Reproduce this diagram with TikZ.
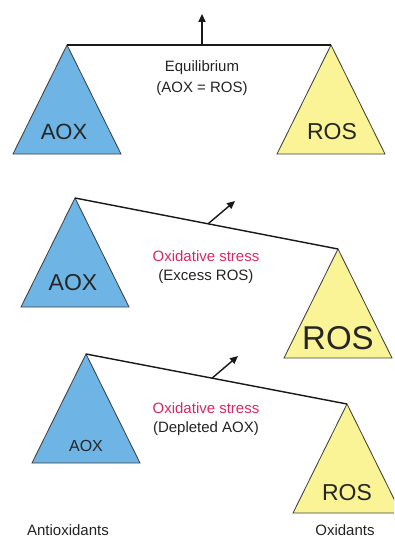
\documentclass[tikz,border=0pt]{standalone}
\usepackage{fontspec}
\setmainfont{Liberation Sans}
\usepackage{tikz}
\usetikzlibrary{arrows.meta,calc}
\definecolor{aoxblue}{RGB}{110,180,228}
\definecolor{rosyellow}{RGB}{250,244,150}
\definecolor{stressred}{RGB}{214,40,96}
\definecolor{labelgrey}{RGB}{35,35,35}
\tikzset{
	aoxpan/.style={fill=aoxblue, draw=black!75, line width=0.3mm},
	rospan/.style={fill=rosyellow, draw=black!75, line width=0.3mm},
	beam/.style={line width=0.5mm, color=black!90},
	tilt/.style={line width=0.5mm, color=black!90, -{Triangle[length=2.8mm,width=2.5mm]}},
	caption/.style={font=\fontsize{15}{18}\selectfont, text=labelgrey, inner sep=0pt},
	weight/.style={text=black!85, inner sep=0pt},
}
\def\pan[#1](#2){\draw[#1] (#2) -- ++(-54,109) -- ++(108,0) -- cycle;}

\begin{document}
\begin{tikzpicture}[x=1pt, y=-1pt]
			%%%%% START %%%%%
			
			\path[use as bounding box, clip] (0,0) rectangle (394,541);
			
			% equilibrium
			\coordinate (aoxTop1) at (67, 45);
			\coordinate (rosTop1) at (331, 45);
			\coordinate (pivot1) at (202, 45);
			\coordinate (tip1) at (202, 14);
			\pan[aoxpan](aoxTop1);
			\pan[rospan](rosTop1);
			\draw[beam] (aoxTop1) -- (rosTop1);
			\draw[tilt] (pivot1) -- (tip1);
			\node[caption] (state1) at (202, 68) {Equilibrium};
			\node[caption] (cause1) at (202, 89) {(AOX = ROS)};
			\node[weight, font=\fontsize{22}{24}\selectfont] (aox1) at (64, 132) {AOX};
			\node[weight, font=\fontsize{23}{25}\selectfont] (ros1) at (332, 132) {ROS};
			
			% excess ROS
			\coordinate (aoxTop2) at (75, 198);
			\coordinate (rosTop2) at (338, 249);
			\coordinate (pivot2) at ($(aoxTop2)!0.506!(rosTop2)$);
			\coordinate (tip2) at (235, 201);
			\pan[aoxpan](aoxTop2);
			\pan[rospan](rosTop2);
			\draw[beam] (aoxTop2) -- (rosTop2);
			\draw[tilt] (pivot2) -- (tip2);
			\node[caption, text=stressred] (state2) at (206, 256) {Oxidative stress};
			\node[caption] (cause2) at (206, 277) {(Excess ROS)};
			\node[weight, font=\fontsize{23}{25}\selectfont] (aox2) at (73, 283) {AOX};
			\node[weight, font=\fontsize{33}{36}\selectfont] (ros2) at (338, 338) {ROS};
			
			% depleted AOX
			\coordinate (aoxTop3) at (86, 354);
			\coordinate (rosTop3) at (347, 404);
			\coordinate (pivot3) at ($(aoxTop3)!0.483!(rosTop3)$);
			\coordinate (tip3) at (238, 356);
			\pan[aoxpan](aoxTop3);
			\pan[rospan](rosTop3);
			\draw[beam] (aoxTop3) -- (rosTop3);
			\draw[tilt] (pivot3) -- (tip3);
			\node[caption, text=stressred] (state3) at (206, 408) {Oxidative stress};
			\node[caption] (cause3) at (206, 429) {(Depleted AOX)};
			\node[weight, font=\fontsize{16}{18}\selectfont] (aox3) at (86, 446) {AOX};
			\node[weight, font=\fontsize{23}{25}\selectfont] (ros3) at (347, 493) {ROS};
			
			\node[caption] (antiox) at (68, 530) {Antioxidants};
			\node[caption] (oxid) at (345, 530) {Oxidants};
			
			%%%%% END %%%%%
\end{tikzpicture}
\end{document}
